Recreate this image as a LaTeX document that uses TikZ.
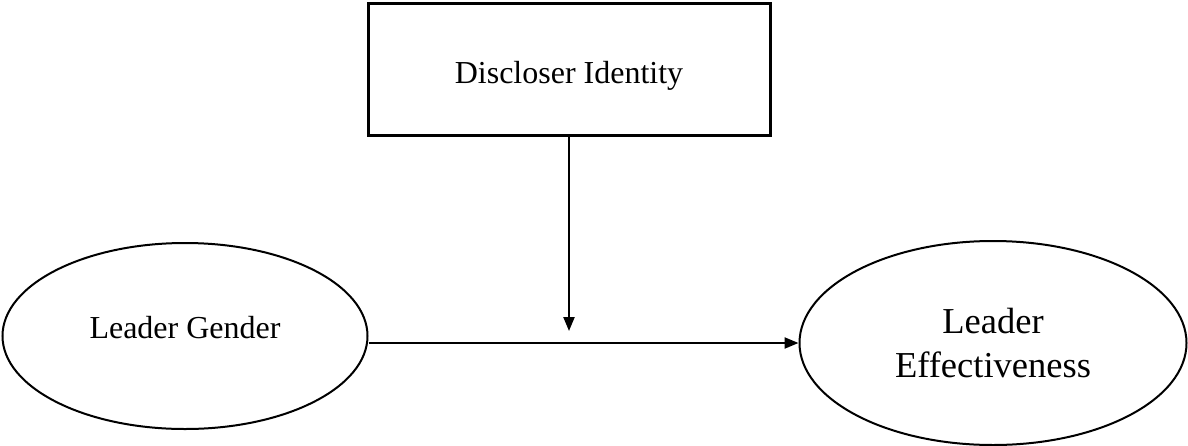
\documentclass[tikz,border=0pt]{standalone}
\usepackage{fontspec}
\setmainfont{Liberation Serif}
\usetikzlibrary{shapes.geometric,arrows.meta}

\begin{document}
\begin{tikzpicture}[x=0.5pt, y=-0.5pt,
  every node/.style={inner sep=0pt, font=\fontsize{16}{19}\selectfont},
  factor/.style={draw, ellipse, line width=1pt},
  arr/.style={line width=1.1pt, -{Triangle[length=7pt,width=5.5pt]}}]
  \useasboundingbox (0,0) rectangle (1188,445);
  \node[draw, line width=1.5pt, minimum width=201pt, minimum height=66pt, text height=18pt] (di) at (569,69) {Discloser Identity};
  \node[factor, minimum width=182.5pt, minimum height=93pt, text depth=9pt] (lg) at (185,336) {Leader Gender};
  \node[factor, minimum width=193.5pt, minimum height=102pt, align=center,
        font=\fontsize{18.25}{22}\selectfont] (le) at (993,343) {Leader\\Effectiveness};
  \coordinate (mod) at (569,331);
  \draw[arr] (di.south) -- (mod);
  \draw[arr] (lg.east |- le.west) -- (le.west);
\end{tikzpicture}
\end{document}
